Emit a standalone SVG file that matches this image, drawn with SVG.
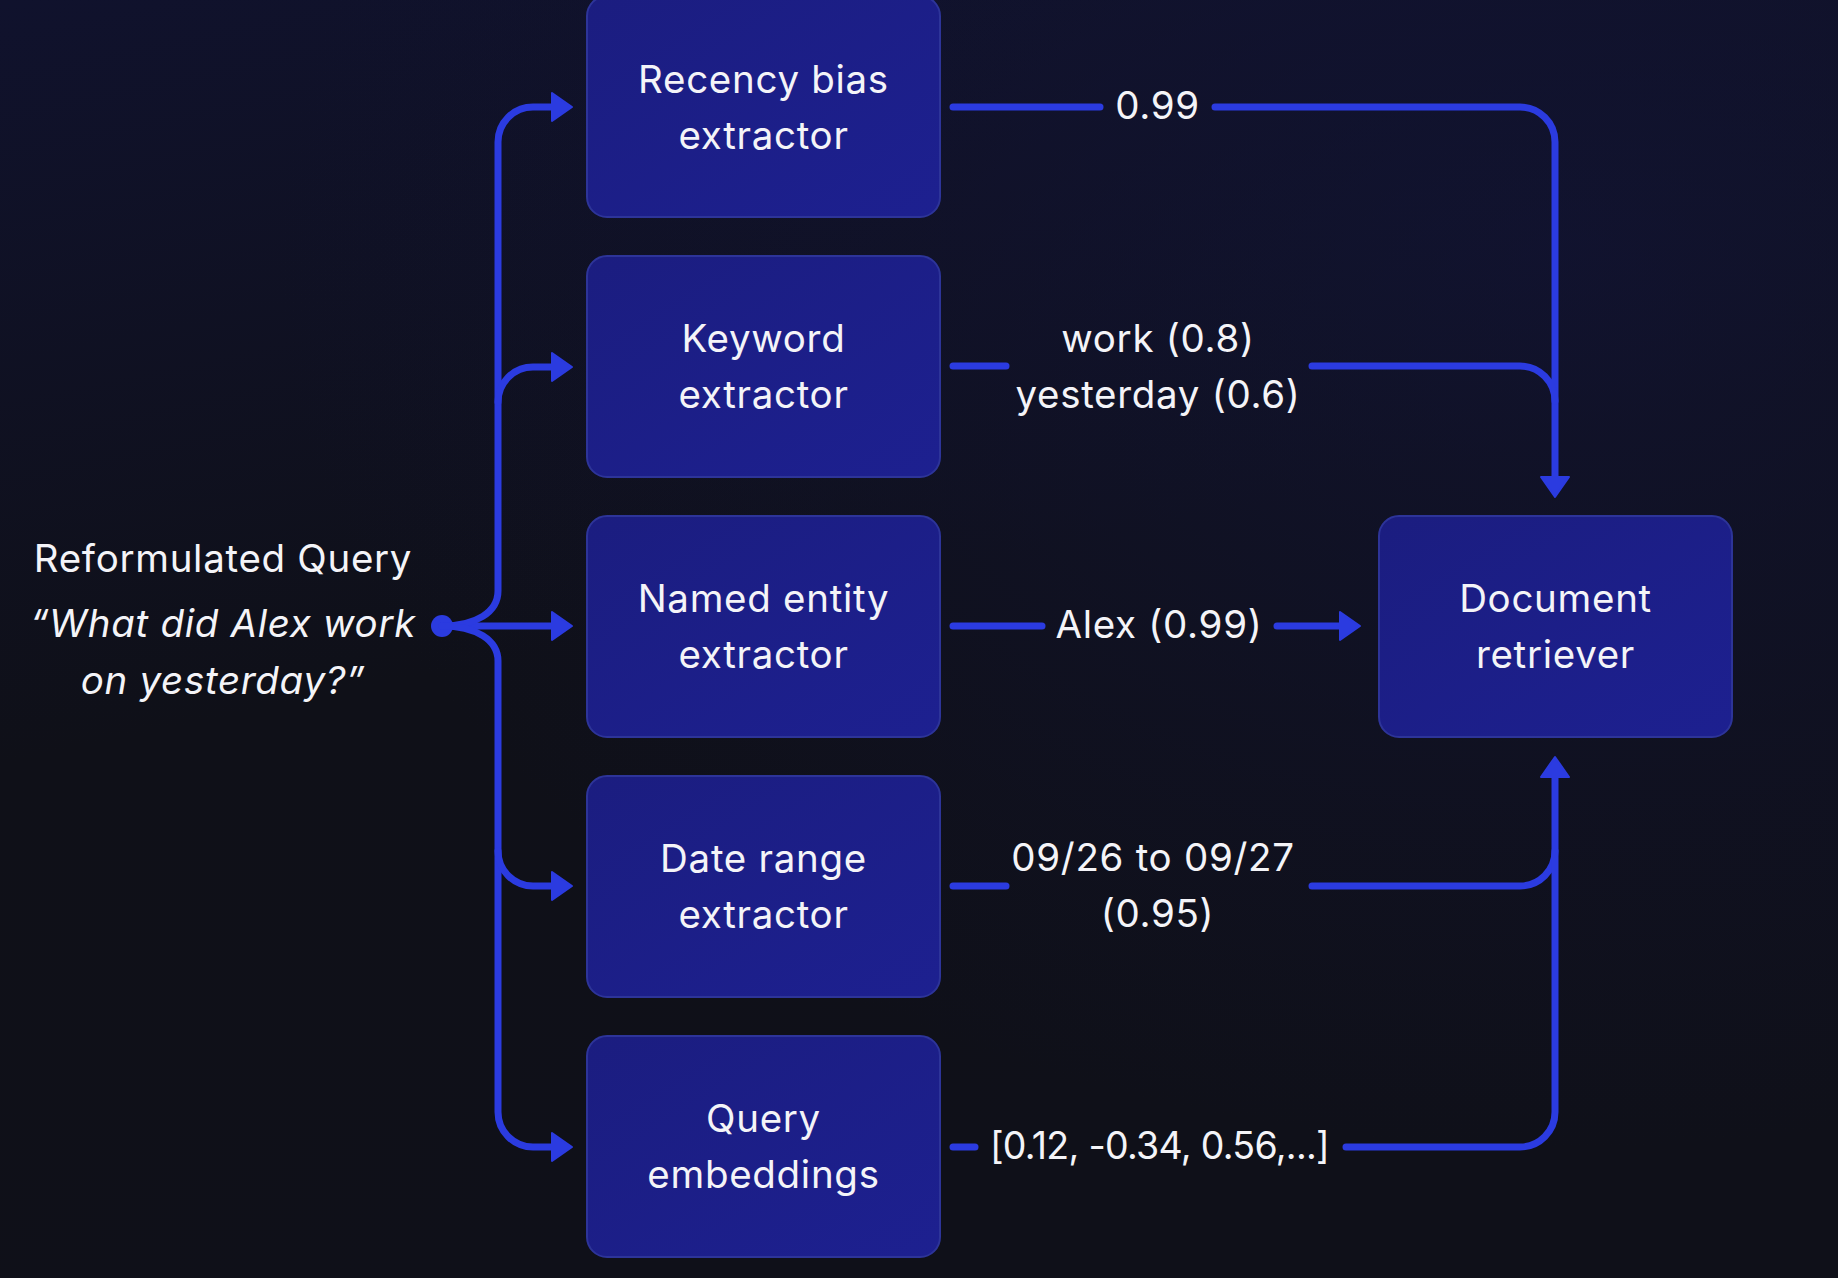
<svg xmlns="http://www.w3.org/2000/svg" width="1838" height="1278" viewBox="0 0 1838 1278">
<defs>
<linearGradient id="bg" x1="0" y1="0" x2="0.3" y2="1">
<stop offset="0" stop-color="#10122d"/>
<stop offset="0.55" stop-color="#0f1018"/>
<stop offset="1" stop-color="#0f1019"/>
</linearGradient>
<radialGradient id="bg2" cx="0.85" cy="0.2" r="0.7">
<stop offset="0" stop-color="#12143a" stop-opacity="0.6"/>
<stop offset="1" stop-color="#12143a" stop-opacity="0"/>
</radialGradient>
<linearGradient id="boxfill" x1="0" y1="0" x2="1" y2="1">
<stop offset="0" stop-color="#1b1d80"/>
<stop offset="1" stop-color="#1d2090"/>
</linearGradient>
<marker id="ah" viewBox="-2 -2 25 32" refX="1" refY="14" markerWidth="25" markerHeight="32" markerUnits="userSpaceOnUse" orient="auto">
<path d="M0,0 L20,14 L0,28 Z" fill="#2b3be0" stroke="#2b3be0" stroke-width="2" stroke-linejoin="round"/>
</marker>
<style>
.box{fill:url(#boxfill);stroke:#2d3499;stroke-width:2}
.t{font-family:"Inter","DejaVu Sans",sans-serif;font-size:38.5px;fill:#f4f4f8;text-anchor:middle;letter-spacing:0.7px}
.it{font-style:italic}
.vec{letter-spacing:-0.7px;font-size:37.5px}
.ln{fill:none;stroke:#2b3be0;stroke-width:7;stroke-linecap:round;stroke-linejoin:round}
.arr{marker-end:url(#ah)}
</style>
</defs>
<rect width="1838" height="1278" fill="url(#bg)"/>
<rect width="1838" height="1278" fill="url(#bg2)"/>

<g id="query">
<text class="t" x="223" y="572">Reformulated Query</text>
<text class="t it" x="223" y="637">“What did Alex work</text>
<text class="t it" x="223" y="694">on yesterday?”</text>
<circle cx="442" cy="626" r="11" fill="#2b3be0"/>
</g>

<g id="recency">
<rect class="box" x="587" y="-4" width="353" height="221" rx="20"/>
<text class="t" x="763.5" y="93">Recency bias</text>
<text class="t" x="763.5" y="149">extractor</text>
</g>
<g id="keyword">
<rect class="box" x="587" y="256" width="353" height="221" rx="20"/>
<text class="t" x="763.5" y="352">Keyword</text>
<text class="t" x="763.5" y="408">extractor</text>
</g>
<g id="named-entity">
<rect class="box" x="587" y="516" width="353" height="221" rx="20"/>
<text class="t" x="763.5" y="612">Named entity</text>
<text class="t" x="763.5" y="668">extractor</text>
</g>
<g id="date-range">
<rect class="box" x="587" y="776" width="353" height="221" rx="20"/>
<text class="t" x="763.5" y="872">Date range</text>
<text class="t" x="763.5" y="928">extractor</text>
</g>
<g id="embeddings">
<rect class="box" x="587" y="1036" width="353" height="221" rx="20"/>
<text class="t" x="763.5" y="1132">Query</text>
<text class="t" x="763.5" y="1188">embeddings</text>
</g>
<g id="retriever">
<rect class="box" x="1379" y="516" width="353" height="221" rx="20"/>
<text class="t" x="1555.5" y="612">Document</text>
<text class="t" x="1555.5" y="668">retriever</text>
</g>

<g id="connectors">
<path class="ln arr" d="M442,626 H553"/>
<path class="ln arr" d="M442,626 C476,626 498,612 498,591 V142 A35,35 0 0 1 533,107 H553"/>
<path class="ln arr" d="M498,402 A35,35 0 0 1 533,367 H553"/>
<path class="ln arr" d="M442,626 C476,626 498,640 498,661 V1112 A35,35 0 0 0 533,1147 H553"/>
<path class="ln arr" d="M498,851 A35,35 0 0 0 533,886 H553"/>

<path class="ln" d="M953,107 H1100"/>
<path class="ln arr" d="M1215,107 H1520 A35,35 0 0 1 1555,142 V478"/>
<path class="ln" d="M953,366 H1006"/>
<path class="ln" d="M1312,366 H1520 A35,35 0 0 1 1555,401"/>
<path class="ln" d="M953,626 H1042"/>
<path class="ln arr" d="M1277,626 H1341"/>
<path class="ln" d="M953,886 H1006"/>
<path class="ln" d="M1312,886 H1520 A35,35 0 0 0 1555,851"/>
<path class="ln" d="M953,1147 H975"/>
<path class="ln arr" d="M1346,1147 H1520 A35,35 0 0 0 1555,1112 V776"/>

<text class="t" x="1157.5" y="119">0.99</text>
<text class="t" x="1158" y="352">work (0.8)</text>
<text class="t" x="1158" y="408">yesterday (0.6)</text>
<text class="t" x="1159" y="638">Alex (0.99)</text>
<text class="t" x="1153" y="871">09/26 to 09/27</text>
<text class="t" x="1157.5" y="927">(0.95)</text>
<text class="t vec" x="1159.5" y="1159">[0.12, -0.34, 0.56,...]</text>
</g>
</svg>
